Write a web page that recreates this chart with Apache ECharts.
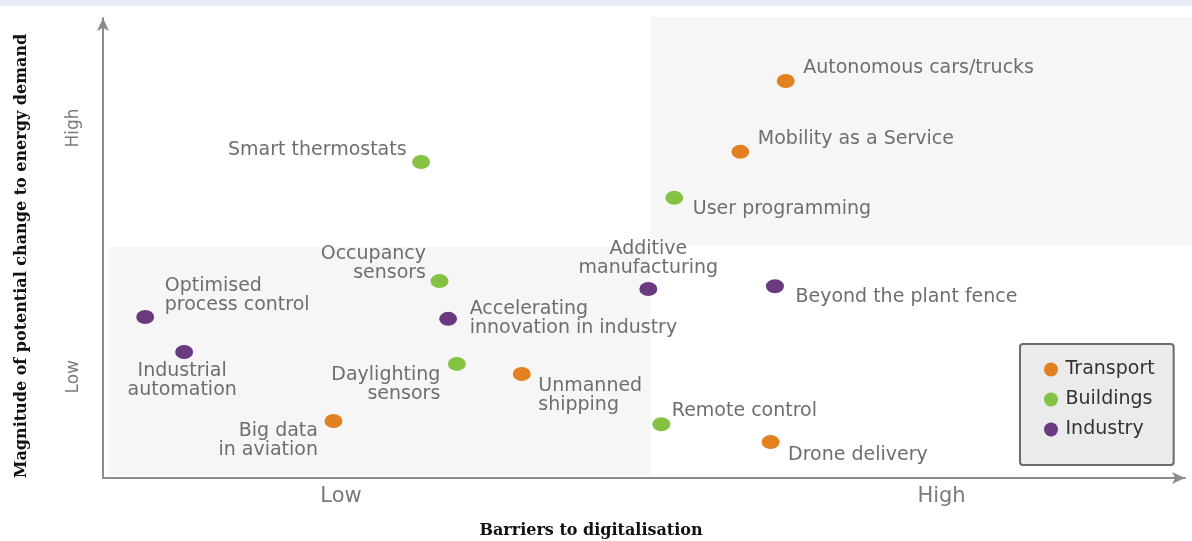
<!DOCTYPE html>
<html><head><meta charset="utf-8">
<script src="https://cdn.jsdelivr.net/npm/echarts@6/dist/echarts.min.js"></script>
<style>html,body{margin:0;padding:0;background:#fff}#c{width:1192px;height:541px}</style>
</head><body><div id="c"></div>
<script>
// ---- data ----
const categories = ['Transport', 'Buildings', 'Industry'];

const transportNames = ['Autonomous cars/trucks', 'Mobility as a Service', 'Unmanned\nshipping', 'Big data\nin aviation', 'Drone delivery'];
const transportX = [6.31, 5.89, 3.87, 2.13, 6.17];
const transportY = [8.63, 7.09, 2.26, 1.24, 0.78];

const buildingsNames = ['Smart thermostats', 'User programming', 'Occupancy\nsensors', 'Daylighting\nsensors', 'Remote control'];
const buildingsX = [2.94, 5.28, 3.11, 3.27, 5.16];
const buildingsY = [6.87, 6.09, 4.28, 2.48, 1.17];

const industryNames = ['Additive\nmanufacturing', 'Beyond the plant fence', 'Optimised\nprocess control', 'Accelerating\ninnovation in industry', 'Industrial\nautomation'];
const industryX = [5.04, 6.21, 0.39, 3.19, 0.75];
const industryY = [4.11, 4.17, 3.50, 3.46, 2.74];

const xTickValues = [2.2, 7.75];
const yTickValues = [2.2, 7.61];
const tickLabels = ['Low', 'High'];
const xAxisTitle = 'Barriers to digitalisation';
const yAxisTitle = 'Magnitude of potential change to energy demand';

// shaded zones [x0, y0, x1, y1] in axis units
const zoneLow = [0.05, 0.07, 5.06, 5.02];
const zoneHigh = [5.06, 5.07, 10.1, 10.02];

// ---- label layout (styling, not data) ----
const labelLayout = {
  'Autonomous cars/trucks': ['right', 8.5, 0, -13],
  'Mobility as a Service': ['right', 8.5, 0, -13],
  'Unmanned\nshipping': ['right', 7.5, 0, 22],
  'Big data\nin aviation': ['left', 6.5, 0, 19.5],
  'Drone delivery': ['right', 8.5, 0, 13],
  'Smart thermostats': ['left', 5.5, 0, -12],
  'User programming': ['right', 9.5, 0, 11],
  'Occupancy\nsensors': ['left', 4.5, 0, -18],
  'Daylighting\nsensors': ['left', 7.5, 0, 21],
  'Remote control': ['right', 1.5, 0, -13],
  'Additive\nmanufacturing': ['top', 4, 0, 0],
  'Beyond the plant fence': ['right', 11.5, 0, 11],
  'Optimised\nprocess control': ['right', 10.5, 0, -21],
  'Accelerating\ninnovation in industry': ['right', 12.5, 0, 0],
  'Industrial\nautomation': ['bottom', 3, -2, 0]
};

const colors = ['#e3801f', '#84c341', '#6a3a80'];
const ellipse = 'path://M0 50 A50 50 0 1 0 100 50 A50 50 0 1 0 0 50 Z';

function buildData(names, xs, ys) {
  return names.map((n, i) => {
    const l = labelLayout[n];
    return {
      name: n,
      value: [xs[i], ys[i]],
      label: { position: l[0], distance: l[1], offset: [l[2], l[3]] }
    };
  });
}

const seriesSrc = [
  [transportNames, transportX, transportY],
  [buildingsNames, buildingsX, buildingsY],
  [industryNames, industryX, industryY]
];

const chart = echarts.init(document.getElementById('c'), null, { renderer: 'canvas' });

const axisLineStyle = { color: '#8c8c8c', width: 2 };

const option = {
  animation: false,
  backgroundColor: '#ffffff',
  grid: { left: 103, right: 7, top: 18, bottom: 63, containLabel: false },
  xAxis: {
    type: 'value', min: 0, max: 10,
    axisLine: { show: true, lineStyle: axisLineStyle, symbol: ['none', 'arrow'], symbolSize: [9, 13] },
    axisTick: { show: false },
    splitLine: { show: false },
    axisLabel: {
      customValues: xTickValues,
      formatter: v => tickLabels[xTickValues.indexOf(v)] || '',
      color: '#7a7a7a', fontSize: 21, fontFamily: 'DejaVu Sans', margin: 8
    }
  },
  yAxis: {
    type: 'value', min: 0, max: 10,
    axisLine: { show: true, lineStyle: axisLineStyle, symbol: ['none', 'arrow'], symbolSize: [9, 13] },
    axisTick: { show: false },
    splitLine: { show: false },
    axisLabel: {
      customValues: yTickValues,
      formatter: v => tickLabels[yTickValues.indexOf(v)] || '',
      color: '#7a7a7a', fontSize: 17, fontFamily: 'DejaVu Sans', margin: 21, rotate: 90
    }
  },
  legend: {
    orient: 'vertical',
    left: 1020, top: 344,
    data: categories,
    icon: ellipse,
    itemWidth: 19, itemHeight: 14,
    itemGap: 11,
    padding: [16, 19, 26, 24],
    backgroundColor: '#ebebeb',
    borderColor: '#6a6a6a', borderWidth: 2, borderRadius: 3,
    textStyle: { color: '#333333', fontSize: 19, lineHeight: 19, fontFamily: 'DejaVu Sans' }
  },
  series: seriesSrc.map((s, k) => ({
    type: 'scatter',
    name: categories[k],
    symbol: ellipse,
    symbolSize: [18, 14],
    itemStyle: { color: colors[k], opacity: 1 },
    label: {
      show: true,
      formatter: '{b}',
      color: '#6e6e6e',
      fontSize: 19,
      lineHeight: 19,
      fontFamily: 'DejaVu Sans'
    },
    data: buildData(s[0], s[1], s[2])
  }))
};

chart.setOption(option);

function rectFor(z) {
  const p0 = chart.convertToPixel({ gridIndex: 0 }, [z[0], z[3]]);
  const p1 = chart.convertToPixel({ gridIndex: 0 }, [z[2], z[1]]);
  return { x: p0[0], y: p0[1], width: p1[0] - p0[0], height: p1[1] - p0[1] };
}

chart.setOption({
  graphic: [
    { type: 'rect', z: -10, silent: true, shape: { x: 0, y: 0, width: 1192, height: 6 }, style: { fill: '#e6ecf3' } },
    { type: 'rect', z: -10, silent: true, shape: rectFor(zoneLow), style: { fill: '#f6f6f6' } },
    { type: 'rect', z: -10, silent: true, shape: rectFor(zoneHigh), style: { fill: '#f6f6f6' } },
    { type: 'text', z: 5, x: 591, y: 531,
      style: { text: xAxisTitle, font: 'bold 16px "DejaVu Serif"', fill: '#111', align: 'center', verticalAlign: 'middle' } },
    { type: 'text', z: 5, x: 22, y: 256, rotation: Math.PI / 2,
      style: { text: yAxisTitle, font: 'bold 16px "DejaVu Serif"', fill: '#111', align: 'center', verticalAlign: 'middle' } }
  ]
});
</script>
</body></html>
